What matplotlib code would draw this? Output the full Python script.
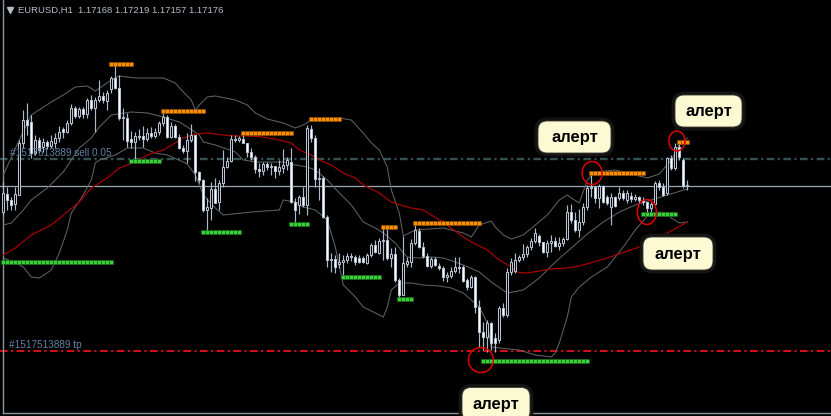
import numpy as np
import matplotlib.pyplot as plt
import matplotlib.patheffects as pe
from matplotlib.transforms import IdentityTransform
from matplotlib.patches import FancyBboxPatch, Ellipse

plt.rcParams['lines.scale_dashes'] = False

# EURUSD H1 candles (oldest -> newest)
opens = [
    1.1688, 1.1706, 1.1700, 1.1696, 1.1705, 1.1757, 1.1780, 1.1778, 1.1747, 1.1760,
    1.1753, 1.1758, 1.1754, 1.1757, 1.1762, 1.1771, 1.1768, 1.1777, 1.1792, 1.1784,
    1.1791, 1.1786, 1.1800, 1.1792, 1.1800, 1.1804, 1.1799, 1.1811, 1.1822, 1.1812,
    1.1782, 1.1782, 1.1761, 1.1758, 1.1764, 1.1764, 1.1761, 1.1767, 1.1764, 1.1768,
    1.1777, 1.1783, 1.1763, 1.1774, 1.1763, 1.1752, 1.1749, 1.1760, 1.1765, 1.1728,
    1.1720, 1.1690, 1.1692, 1.1711, 1.1698, 1.1717, 1.1733, 1.1739, 1.1761, 1.1760,
    1.1761, 1.1757, 1.1748, 1.1743, 1.1731, 1.1729, 1.1736, 1.1733, 1.1734, 1.1729,
    1.1732, 1.1735, 1.1738, 1.1698, 1.1695, 1.1703, 1.1695, 1.1771, 1.1762, 1.1721,
    1.1722, 1.1683, 1.1640, 1.1641, 1.1636, 1.1638, 1.1640, 1.1644, 1.1643, 1.1642,
    1.1642, 1.1637, 1.1645, 1.1655, 1.1647, 1.1659, 1.1660, 1.1642, 1.1646, 1.1620,
    1.1605, 1.1636, 1.1638, 1.1657, 1.1669, 1.1653, 1.1644, 1.1634, 1.1641, 1.1634,
    1.1632, 1.1623, 1.1624, 1.1629, 1.1633, 1.1633, 1.1620, 1.1613, 1.1623, 1.1593,
    1.1568, 1.1563, 1.1577, 1.1562, 1.1560, 1.1592, 1.1585, 1.1628, 1.1629, 1.1640,
    1.1643, 1.1646, 1.1653, 1.1659, 1.1664, 1.1658, 1.1648, 1.1657, 1.1659, 1.1654,
    1.1657, 1.1661, 1.1688, 1.1680, 1.1670, 1.1678, 1.1693, 1.1712, 1.1713, 1.1702,
    1.1714, 1.1703, 1.1693, 1.1703, 1.1702, 1.1707, 1.1700, 1.1704, 1.1701, 1.1703,
    1.1700, 1.1698, 1.1692, 1.1696, 1.1717, 1.1713, 1.1707, 1.1742, 1.1732, 1.1753,
    1.1740, 1.1714,
]
highs = [
    1.1718, 1.1713, 1.1703, 1.1713, 1.1760, 1.1790, 1.1797, 1.1785, 1.1765, 1.1763,
    1.1762, 1.1760, 1.1765, 1.1767, 1.1774, 1.1773, 1.1780, 1.1796, 1.1794, 1.1793,
    1.1793, 1.1802, 1.1805, 1.1803, 1.1820, 1.1808, 1.1810, 1.1824, 1.1835, 1.1825,
    1.1792, 1.1787, 1.1769, 1.1768, 1.1771, 1.1774, 1.1772, 1.1773, 1.1772, 1.1779,
    1.1788, 1.1785, 1.1778, 1.1776, 1.1766, 1.1755, 1.1767, 1.1776, 1.1765, 1.1729,
    1.1721, 1.1702, 1.1718, 1.1722, 1.1720, 1.1750, 1.1743, 1.1765, 1.1765, 1.1764,
    1.1765, 1.1757, 1.1752, 1.1745, 1.1737, 1.1738, 1.1738, 1.1737, 1.1734, 1.1740,
    1.1751, 1.1743, 1.1752, 1.1702, 1.1705, 1.1713, 1.1775, 1.1775, 1.1765, 1.1732,
    1.1724, 1.1685, 1.1647, 1.1645, 1.1647, 1.1645, 1.1647, 1.1647, 1.1645, 1.1645,
    1.1644, 1.1647, 1.1657, 1.1660, 1.1662, 1.1673, 1.1672, 1.1652, 1.1653, 1.1622,
    1.1664, 1.1643, 1.1661, 1.1676, 1.1672, 1.1658, 1.1647, 1.1643, 1.1643, 1.1637,
    1.1634, 1.1628, 1.1633, 1.1643, 1.1643, 1.1635, 1.1622, 1.1625, 1.1624, 1.1600,
    1.1578, 1.1580, 1.1578, 1.1567, 1.1594, 1.1597, 1.1632, 1.1642, 1.1647, 1.1645,
    1.1656, 1.1655, 1.1662, 1.1672, 1.1666, 1.1658, 1.1660, 1.1665, 1.1663, 1.1663,
    1.1663, 1.1695, 1.1696, 1.1688, 1.1691, 1.1697, 1.1715, 1.1725, 1.1713, 1.1716,
    1.1715, 1.1705, 1.1707, 1.1704, 1.1713, 1.1710, 1.1710, 1.1708, 1.1706, 1.1704,
    1.1703, 1.1698, 1.1698, 1.1719, 1.1720, 1.1717, 1.1743, 1.1745, 1.1757, 1.1758,
    1.1742, 1.1720,
]
lows = [
    1.1685, 1.1690, 1.1690, 1.1690, 1.1705, 1.1752, 1.1765, 1.1742, 1.1745, 1.1747,
    1.1748, 1.1751, 1.1752, 1.1752, 1.1758, 1.1762, 1.1767, 1.1775, 1.1782, 1.1782,
    1.1782, 1.1782, 1.1790, 1.1768, 1.1798, 1.1797, 1.1790, 1.1807, 1.1811, 1.1780,
    1.1760, 1.1753, 1.1752, 1.1738, 1.1760, 1.1753, 1.1759, 1.1762, 1.1762, 1.1765,
    1.1774, 1.1762, 1.1762, 1.1762, 1.1751, 1.1747, 1.1737, 1.1758, 1.1719, 1.1717,
    1.1688, 1.1668, 1.1680, 1.1697, 1.1690, 1.1713, 1.1732, 1.1738, 1.1758, 1.1758,
    1.1757, 1.1743, 1.1740, 1.1727, 1.1723, 1.1725, 1.1730, 1.1725, 1.1722, 1.1725,
    1.1727, 1.1730, 1.1697, 1.1677, 1.1686, 1.1693, 1.1685, 1.1758, 1.1713, 1.1700,
    1.1682, 1.1633, 1.1628, 1.1627, 1.1632, 1.1623, 1.1637, 1.1639, 1.1635, 1.1637,
    1.1637, 1.1636, 1.1643, 1.1647, 1.1646, 1.1640, 1.1640, 1.1633, 1.1618, 1.1600,
    1.1605, 1.1633, 1.1633, 1.1655, 1.1652, 1.1642, 1.1633, 1.1632, 1.1634, 1.1630,
    1.1619, 1.1618, 1.1622, 1.1627, 1.1627, 1.1618, 1.1610, 1.1612, 1.1587, 1.1553,
    1.1550, 1.1548, 1.1550, 1.1548, 1.1557, 1.1583, 1.1583, 1.1625, 1.1627, 1.1638,
    1.1640, 1.1643, 1.1650, 1.1657, 1.1654, 1.1647, 1.1643, 1.1648, 1.1653, 1.1650,
    1.1654, 1.1660, 1.1677, 1.1668, 1.1663, 1.1675, 1.1690, 1.1703, 1.1697, 1.1692,
    1.1697, 1.1695, 1.1675, 1.1693, 1.1700, 1.1700, 1.1697, 1.1698, 1.1699, 1.1697,
    1.1695, 1.1688, 1.1688, 1.1695, 1.1710, 1.1704, 1.1705, 1.1730, 1.1730, 1.1740,
    1.1712, 1.1710,
]
closes = [
    1.1707, 1.1700, 1.1695, 1.1706, 1.1757, 1.1780, 1.1775, 1.1747, 1.1760, 1.1750,
    1.1758, 1.1754, 1.1759, 1.1762, 1.1768, 1.1768, 1.1777, 1.1792, 1.1784, 1.1791,
    1.1786, 1.1800, 1.1792, 1.1800, 1.1804, 1.1800, 1.1807, 1.1822, 1.1812, 1.1782,
    1.1783, 1.1759, 1.1758, 1.1764, 1.1763, 1.1761, 1.1767, 1.1764, 1.1768, 1.1777,
    1.1783, 1.1763, 1.1774, 1.1763, 1.1752, 1.1749, 1.1760, 1.1765, 1.1728, 1.1720,
    1.1690, 1.1693, 1.1711, 1.1697, 1.1717, 1.1733, 1.1739, 1.1761, 1.1760, 1.1762,
    1.1757, 1.1748, 1.1743, 1.1731, 1.1729, 1.1736, 1.1733, 1.1734, 1.1729, 1.1733,
    1.1735, 1.1740, 1.1698, 1.1690, 1.1703, 1.1695, 1.1772, 1.1762, 1.1721, 1.1722,
    1.1683, 1.1640, 1.1641, 1.1633, 1.1638, 1.1640, 1.1644, 1.1643, 1.1638, 1.1638,
    1.1638, 1.1645, 1.1655, 1.1648, 1.1659, 1.1660, 1.1642, 1.1646, 1.1620, 1.1605,
    1.1637, 1.1639, 1.1657, 1.1670, 1.1653, 1.1644, 1.1634, 1.1641, 1.1635, 1.1632,
    1.1623, 1.1625, 1.1629, 1.1633, 1.1632, 1.1619, 1.1613, 1.1623, 1.1593, 1.1568,
    1.1563, 1.1577, 1.1557, 1.1557, 1.1592, 1.1585, 1.1628, 1.1638, 1.1640, 1.1643,
    1.1646, 1.1653, 1.1659, 1.1667, 1.1658, 1.1648, 1.1657, 1.1659, 1.1654, 1.1657,
    1.1661, 1.1688, 1.1680, 1.1670, 1.1678, 1.1693, 1.1712, 1.1713, 1.1702, 1.1714,
    1.1698, 1.1697, 1.1703, 1.1694, 1.1707, 1.1702, 1.1707, 1.1701, 1.1703, 1.1700,
    1.1698, 1.1692, 1.1696, 1.1717, 1.1713, 1.1705, 1.1742, 1.1732, 1.1753, 1.1743,
    1.1714, 1.1714,
]

# Bollinger bands and moving average, read at knots (bar index, price)
bb_up_idx = [0, 4, 7, 12, 15, 18, 21, 23, 27, 29, 33, 40, 43, 45, 47, 48, 49, 51, 53, 58,
             61, 63, 66, 70, 73, 75, 77, 80, 84, 87, 90, 92, 94, 96, 97, 99, 100, 103, 110, 115,
             117, 119, 122, 123, 125, 127, 130, 133, 136, 139, 141, 142, 144, 146, 148, 153, 158, 161,
             164, 167, 169, 171]
bb_up = [1.1725, 1.1760, 1.1785, 1.1798, 1.1805, 1.1813, 1.1814, 1.1809, 1.1820, 1.1824,
         1.1822, 1.1822, 1.1817, 1.1808, 1.1800, 1.1790, 1.1795, 1.1803, 1.1804, 1.1800,
         1.1795, 1.1787, 1.1781, 1.1777, 1.1772, 1.1775, 1.1780, 1.1779, 1.1782, 1.1780,
         1.1767, 1.1757, 1.1750, 1.1733, 1.1710, 1.1687, 1.1664, 1.1670, 1.1672, 1.1667,
         1.1663, 1.1675, 1.1679, 1.1673, 1.1665, 1.1661, 1.1665, 1.1675, 1.1685, 1.1700,
         1.1705, 1.1702, 1.1697, 1.1720, 1.1728, 1.1730, 1.1725, 1.1722, 1.1726, 1.1740,
         1.1755, 1.1762]
bb_mid_idx = [0, 2, 5, 7, 11, 15, 19, 22, 24, 27, 32, 36, 40, 44, 46, 49, 50, 53, 58, 60,
              63, 70, 73, 76, 78, 81, 84, 87, 90, 93, 95, 98, 100, 101, 104, 107, 110, 113, 115, 119,
              122, 126, 130, 134, 138, 142, 146, 150, 154, 158, 162, 166, 171]
bb_mid = [1.1675, 1.1677, 1.1690, 1.1700, 1.1712, 1.1728, 1.1752, 1.1762, 1.1773, 1.1785,
          1.1788, 1.1787, 1.1783, 1.1778, 1.1773, 1.1765, 1.1758, 1.1755, 1.1748, 1.1740,
          1.1738, 1.1738, 1.1735, 1.1733, 1.1730, 1.1720, 1.1707, 1.1695, 1.1678, 1.1672,
          1.1667, 1.1657, 1.1647, 1.1643, 1.1642, 1.1643, 1.1642, 1.1638, 1.1635, 1.1628,
          1.1618, 1.1607, 1.1610, 1.1622, 1.1638, 1.1652, 1.1666, 1.1678, 1.1688, 1.1695,
          1.1700, 1.1705, 1.1711]
bb_low_idx = [0, 2, 5, 7, 9, 12, 14, 16, 17, 20, 22, 23, 24, 28, 31, 35, 38, 41, 45, 46,
              48, 50, 53, 55, 62, 69, 70, 73, 75, 78, 81, 83, 85, 88, 90, 93, 95, 96, 97, 99,
              102, 105, 109, 112, 115, 119, 121, 122, 124, 129, 133, 137, 138, 139, 141, 142, 144, 147,
              151, 155, 158, 161, 164, 166, 167, 169, 171]
bb_low = [1.1642, 1.1639, 1.1633, 1.1623, 1.1622, 1.1630, 1.1647, 1.1670, 1.1687, 1.1705,
          1.1720, 1.1737, 1.1740, 1.1745, 1.1752, 1.1752, 1.1747, 1.1745, 1.1738, 1.1736,
          1.1725, 1.1705, 1.1692, 1.1685, 1.1688, 1.1690, 1.1700, 1.1698, 1.1693, 1.1690,
          1.1680, 1.1653, 1.1615, 1.1603, 1.1593, 1.1587, 1.1583, 1.1593, 1.1610, 1.1617,
          1.1617, 1.1615, 1.1614, 1.1612, 1.1607, 1.1593, 1.1577, 1.1553, 1.1552, 1.1550,
          1.1545, 1.1543, 1.1547, 1.1557, 1.1583, 1.1603, 1.1613, 1.1623, 1.1633, 1.1653,
          1.1670, 1.1684, 1.1688, 1.1687, 1.1682, 1.1677, 1.1678]
ma_idx = [0, 3, 7, 12, 16, 19, 22, 26, 29, 33, 36, 40, 43, 45, 48, 51, 55, 58, 61, 65,
          69, 72, 74, 77, 79, 82, 85, 88, 90, 94, 97, 100, 102, 105, 107, 110, 112, 115, 117, 121,
          124, 127, 128, 131, 134, 137, 141, 144, 151, 159, 166, 171]
ma = [1.1645, 1.1652, 1.1665, 1.1675, 1.1688, 1.1698, 1.1712, 1.1722, 1.1732, 1.1738,
      1.1745, 1.1750, 1.1757, 1.1762, 1.1766, 1.1767, 1.1765, 1.1764, 1.1764, 1.1763,
      1.1760, 1.1757, 1.1750, 1.1745, 1.1740, 1.1735, 1.1727, 1.1722, 1.1715, 1.1707,
      1.1698, 1.1694, 1.1692, 1.1690, 1.1685, 1.1678, 1.1672, 1.1663, 1.1658, 1.1650,
      1.1640, 1.1633, 1.1628, 1.1627, 1.1629, 1.1631, 1.1632, 1.1634, 1.1642, 1.1653,
      1.1667, 1.1678]

# resistance (orange) / support (green) levels: first bar, last bar, price
res_start = [27, 40, 60, 77, 95, 103, 147, 169]
res_end = [32, 50, 72, 84, 98, 119, 160, 171]
res_price = [1.1836, 1.1789, 1.1767, 1.1781, 1.1673, 1.1677, 1.1727, 1.1758]
sup_start = [0, 32, 50, 72, 85, 99, 120, 160]
sup_end = [27, 39, 59, 76, 94, 102, 146, 168]
sup_price = [1.1638, 1.1739, 1.1668, 1.1676, 1.1623, 1.1601, 1.1539, 1.1686]

# order lines
sell_price = 1.1741
bid_price = 1.1714
tp_price = 1.1549
header = "EURUSD,H1  1.17168 1.17219 1.17157 1.17176"

# alerts: bar index, price
alert_idx = [147.2, 160.9, 168.4, 119.4]
alert_price = [1.1727, 1.1688, 1.1759, 1.1540]

W, H = 831, 416
fig = plt.figure(figsize=(W / 100, H / 100), dpi=100)
fig.patch.set_facecolor('black')
ax = fig.add_axes([0, 0, 1, 1])
ax.set_facecolor('black')
ax.set_xlim(-0.825, (W - 3.3) / 4)
ax.set_ylim(1.19 - H / 10000, 1.19)
ax.axis('off')

# frame
ax.plot([2.5 / W, 2.5 / W], [1, 1 - 413 / H], color='#8b95a1', lw=1, transform=ax.transAxes)
ax.plot([2.5 / W, 1], [1 - 413 / H, 1 - 413 / H], color='#8b95a1', lw=1, transform=ax.transAxes)

# indicators
ax.plot(bb_up_idx, bb_up, color='#5e6265', lw=0.75, zorder=2)
ax.plot(bb_mid_idx, bb_mid, color='#5e6265', lw=0.75, zorder=2)
ax.plot(bb_low_idx, bb_low, color='#5e6265', lw=0.75, zorder=2)
ax.plot(ma_idx, ma, color='#a50000', lw=0.9, zorder=2)

# horizontal order lines
ax.axhline(sell_price, color='#355252', lw=1.7, linestyle=(0, (5.5, 2.5, 1.5, 2.5)), zorder=1)
ax.axhline(bid_price, color='#9ea8b4', lw=0.9, zorder=1)
ax.axhline(tp_price, color='#e8101a', lw=1.3, linestyle=(0, (5.5, 2.5, 1.5, 2.5)), zorder=1)
ax.text(1.7, sell_price + 0.00012, "#1517513889 sell 0.05", color='#5f82a6',
        fontsize=7.2, family='Liberation Sans', va='bottom', zorder=6)
ax.text(1.5, tp_price + 0.00012, "#1517513889 tp", color='#5f82a6',
        fontsize=7.2, family='Liberation Sans', va='bottom', zorder=6)

# candles
x = np.arange(len(closes))
o, h, l, c = map(np.array, (opens, highs, lows, closes))
bear = c < o
ax.vlines(x, l, h, color='#aebacb', lw=0.85, zorder=3)
ax.bar(x, np.maximum(np.abs(c - o), 0.00008), 0.58, np.minimum(o, c),
       color=np.where(bear, '#ffffff', '#000000'), edgecolor='#b8c4d4', linewidth=0.75, zorder=4)

# support / resistance dots
for s, e, p in zip(res_start, res_end, res_price):
    xs = np.arange(s, e + 1)
    ax.plot(xs, [p] * len(xs), 's', mfc='#ff9000', mec='#8a4a00', ms=2.3, mew=0.5, zorder=5)
for s, e, p in zip(sup_start, sup_end, sup_price):
    xs = np.arange(s, e + 1)
    ax.plot(xs, [p] * len(xs), 's', mfc='#3ad23a', mec='#1a661a', ms=2.3, mew=0.5, zorder=5)

# alert circles (size in pixels)
circle_px = [(20, 23), (19, 25), (16, 20), (25, 25)]
for xi, p, (wp, hp) in zip(alert_idx, alert_price, circle_px):
    ax.add_patch(Ellipse((xi, p), wp / 4, hp / 10000, fill=False, ec='#e00000', lw=1.1, zorder=7))

# header
ax.plot([9.5 / W], [1 - 9.5 / H], marker='v', color='#b4bec8', ms=5, transform=ax.transAxes)
ax.text(18 / W, 1 - 10 / H, header, color='#b4bec8', fontsize=6.8,
        family='Liberation Sans', va='center', ha='left', transform=ax.transAxes)

# alert bubbles (pixel coordinates: centre x, centre y from top, width, height)
bubbles = [(574.5, 137, 73, 32), (708.5, 111, 67, 32), (678, 253.5, 70, 33), (496, 404, 68, 33)]
for cx, cy, bw, bh in bubbles:
    box = FancyBboxPatch((cx - bw / 2, H - cy - bh / 2), bw, bh,
                         boxstyle='round,pad=0,rounding_size=9', fc='#fcfad2', ec='#3a3a30',
                         lw=0.6, transform=IdentityTransform(), zorder=10,
                         path_effects=[pe.withStroke(linewidth=5, foreground='#141414')])
    ax.add_patch(box)
    ax.text(cx, H - cy - 5, "алерт", color='black', fontsize=12, fontweight='bold',
            family='Liberation Sans', ha='center', va='baseline',
            transform=IdentityTransform(), zorder=11)

fig.savefig('out.png', dpi=100, facecolor='black')
